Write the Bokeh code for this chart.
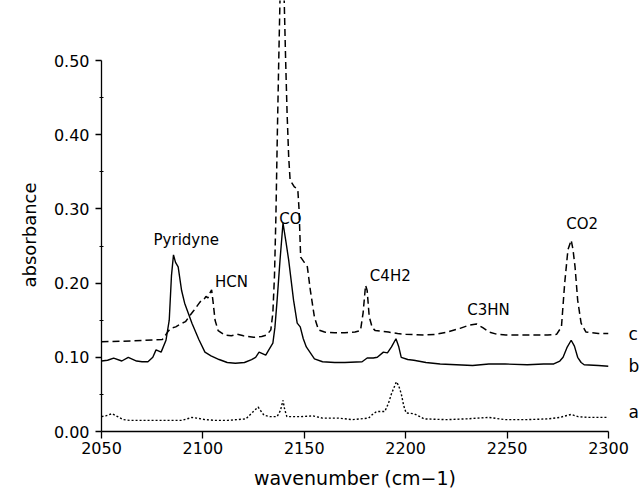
from bokeh.plotting import figure
from bokeh.models import Range1d, FixedTicker, PrintfTickFormatter, ColumnDataSource, LinearAxis, Title
from bokeh.core.properties import value
from bokeh.embed import file_html
from bokeh.resources import INLINE

# ---- data ----
wn_c = [2050, 2065, 2080, 2082.6, 2084, 2086.6, 2089, 2091.4, 2093.8, 2095.5, 2097.9, 2099, 2100.3,
        2101.5, 2102.5, 2103.3, 2104.3, 2105, 2106, 2107.5, 2110.8, 2114, 2117, 2120, 2125, 2129,
        2131.5, 2133.5, 2134.5, 2135.3, 2136.0, 2136.7, 2137.4, 2138.0, 2139.0, 2139.4, 2140.1, 2140.8,
        2141.5, 2142.3, 2143, 2145, 2146.8, 2147.4, 2148.2, 2150, 2151.5, 2153, 2155, 2157, 2160,
        2165, 2170, 2175, 2177.7, 2179, 2180.2, 2181, 2182, 2183.5, 2185, 2191.5, 2196, 2200, 2209,
        2215, 2220.4, 2226.8, 2231, 2234.9, 2238, 2241.3, 2245, 2249.4, 2260, 2270, 2274.4, 2276.8,
        2278.4, 2280, 2281.6, 2282.5, 2283.5, 2284.8, 2286.5, 2288.9, 2295, 2300]
abs_c = [0.121, 0.122, 0.124, 0.134, 0.139, 0.141, 0.145, 0.148, 0.157, 0.163, 0.172, 0.176, 0.177,
         0.182, 0.180, 0.186, 0.191, 0.175, 0.150, 0.136, 0.130, 0.129, 0.131, 0.129, 0.127, 0.128,
         0.130, 0.137, 0.160, 0.210, 0.290, 0.400, 0.500, 0.580, 0.900, 0.900, 0.580, 0.500,
         0.430, 0.370, 0.339, 0.330, 0.326, 0.300, 0.235, 0.228, 0.222, 0.190, 0.154, 0.137, 0.134,
         0.133, 0.133, 0.134, 0.136, 0.160, 0.197, 0.190, 0.155, 0.140, 0.136, 0.134, 0.132, 0.131, 0.130,
         0.131, 0.134, 0.139, 0.143, 0.145, 0.140, 0.134, 0.131, 0.130, 0.130, 0.130, 0.131, 0.141,
         0.200, 0.245, 0.258, 0.245, 0.222, 0.177, 0.146, 0.134, 0.132, 0.132]

wn_b = [2050, 2053, 2056, 2060, 2063.2, 2067.3, 2070, 2072.9, 2075.3, 2076.9, 2079.4, 2081.8, 2083.4,
        2084.5, 2085.5, 2086.5, 2087.8, 2089.5, 2091, 2094.6, 2098, 2101, 2104, 2108, 2112, 2116,
        2120.5, 2124, 2126, 2127.7, 2131, 2132.5, 2134.5, 2135.5, 2136.6, 2138, 2139.5, 2141, 2142.3,
        2144.7, 2146.5, 2148, 2149.5, 2151, 2155, 2159, 2165, 2170, 2178.5, 2181, 2184, 2186, 2189,
        2191, 2193, 2195.2, 2196.5, 2197.8, 2201, 2204, 2210, 2217, 2225, 2233, 2241, 2249, 2260,
        2268, 2273, 2276, 2277.6, 2279.5, 2281.6, 2283.2, 2284.8, 2286.5, 2288, 2295, 2300]
abs_b = [0.095, 0.096, 0.099, 0.095, 0.100, 0.095, 0.094, 0.094, 0.100, 0.110, 0.107, 0.123, 0.150,
         0.210, 0.238, 0.228, 0.222, 0.190, 0.173, 0.146, 0.124, 0.107, 0.102, 0.097, 0.093, 0.092,
         0.093, 0.097, 0.100, 0.107, 0.103, 0.110, 0.119, 0.140, 0.177, 0.230, 0.281, 0.255, 0.231,
         0.177, 0.146, 0.141, 0.125, 0.114, 0.098, 0.094, 0.093, 0.093, 0.094, 0.099, 0.099, 0.100, 0.107,
         0.106, 0.114, 0.125, 0.115, 0.100, 0.097, 0.096, 0.093, 0.091, 0.090, 0.089, 0.091, 0.091, 0.090,
         0.091, 0.091, 0.095, 0.100, 0.113, 0.123, 0.115, 0.100, 0.093, 0.090, 0.089, 0.088]

wn_a = [2050, 2052, 2055.2, 2058, 2060.8, 2064, 2070, 2080, 2089.7, 2094.6, 2097, 2101, 2106, 2112.4,
        2121.2, 2124.5, 2127.2, 2128.5, 2130.1, 2133, 2136.6, 2138.2, 2139.5, 2140.3, 2141.4, 2148,
        2154.3, 2159, 2167, 2173.6, 2181.7, 2184, 2185.7, 2189.7, 2191.5, 2193, 2195.4, 2196.5, 2197.8,
        2199, 2200.2, 2204, 2207, 2209, 2220, 2230, 2241, 2249, 2260, 2270, 2276, 2281.6, 2285, 2290, 2300]
abs_a = [0.020, 0.021, 0.024, 0.020, 0.016, 0.015, 0.015, 0.015, 0.015, 0.019, 0.018, 0.016, 0.015, 0.015,
         0.017, 0.026, 0.033, 0.028, 0.022, 0.020, 0.020, 0.028, 0.042, 0.030, 0.020, 0.020,
         0.021, 0.018, 0.018, 0.016, 0.018, 0.024, 0.027, 0.027, 0.038, 0.051, 0.067, 0.062, 0.051,
         0.035, 0.025, 0.024, 0.020, 0.017, 0.016, 0.017, 0.019, 0.016, 0.016, 0.017, 0.019, 0.023, 0.020, 0.019, 0.019]

peak_names = ["Pyridyne", "HCN", "CO", "C4H2", "C3HN", "CO2"]
peak_wn = [2091.8, 2114.1, 2143.1, 2192.4, 2240.8, 2287.0]
peak_abs = [0.258, 0.202, 0.286, 0.209, 0.164, 0.280]

trace_names = ["c", "b", "a"]
trace_abs = [0.132, 0.088, 0.026]

x_ticks = [2050, 2100, 2150, 2200, 2250, 2300]
y_ticks = [0.0, 0.1, 0.2, 0.3, 0.4, 0.5]
y_minor = [0.05, 0.15, 0.25, 0.35, 0.45]

FONT = "DejaVu Sans"

p = figure(width=642, height=494, output_backend="svg", toolbar_location=None,
           x_range=Range1d(2050, 2300), y_range=Range1d(0, 0.5809),
           min_border_left=101, min_border_right=24, min_border_top=0, min_border_bottom=63)
p.outline_line_color = None
p.xgrid.visible = False
p.ygrid.visible = False
p.background_fill_color = "white"
p.border_fill_color = "white"

p.line(wn_c, abs_c, line_color="black", line_width=1.5, line_dash="7 4")
p.line(wn_b, abs_b, line_color="black", line_width=1.4)
p.line(wn_a, abs_a, line_color="black", line_width=1.4, line_dash="2 2")

src = ColumnDataSource(dict(x=peak_wn, y=peak_abs, t=peak_names))
p.text(x="x", y="y", text="t", source=src, text_font=value(FONT), text_font_size="15px",
       text_align="center", text_baseline="middle", text_color="black")

# right-side trace letters as an unlined axis
ra = LinearAxis(ticker=FixedTicker(ticks=trace_abs),
                major_label_overrides={v: n for v, n in zip(trace_abs, trace_names)})
ra.axis_line_color = None
ra.major_tick_line_color = None
ra.minor_tick_line_color = None
ra.major_label_standoff = 14
ra.major_label_text_font = FONT
ra.major_label_text_font_size = "17px"
ra.major_label_text_color = "black"
p.add_layout(ra, "right")

xa = p.xaxis[0]
xa.ticker = FixedTicker(ticks=x_ticks)
xa.bounds = (2050, 2300)
xa.major_tick_in = 0
xa.major_tick_out = 7
xa.minor_tick_line_color = None
xa.major_label_text_font = FONT
xa.major_label_text_font_size = "16px"
xa.major_label_standoff = 3
xa.axis_line_width = 1.3
xa.major_tick_line_width = 1.3
xa.major_label_text_color = "black"
xa.axis_label = "wavenumber (cm\u22121)"
xa.axis_label_text_font = FONT
xa.axis_label_text_font_size = "19px"
xa.axis_label_text_font_style = "normal"
xa.axis_label_text_color = "black"
xa.axis_label_standoff = 10

ya = p.yaxis[0]
ya.ticker = FixedTicker(ticks=y_ticks, minor_ticks=y_minor)
ya.formatter = PrintfTickFormatter(format="%.2f")
ya.bounds = (0, 0.5)
ya.major_tick_in = 0
ya.major_tick_out = 6
ya.minor_tick_in = 2
ya.minor_tick_out = 2
ya.major_label_text_font = FONT
ya.major_label_text_font_size = "16px"
ya.major_label_standoff = 6
ya.axis_line_width = 1.3
ya.major_tick_line_width = 1.3
ya.major_label_text_color = "black"

ytitle = Title(text="absorbance", align="left", offset=144, standoff=22,
               text_font=FONT, text_font_size="18px", text_font_style="normal",
               text_color="black")
p.add_layout(ytitle, "left")

open("out.html", "w").write(file_html(p, INLINE))
